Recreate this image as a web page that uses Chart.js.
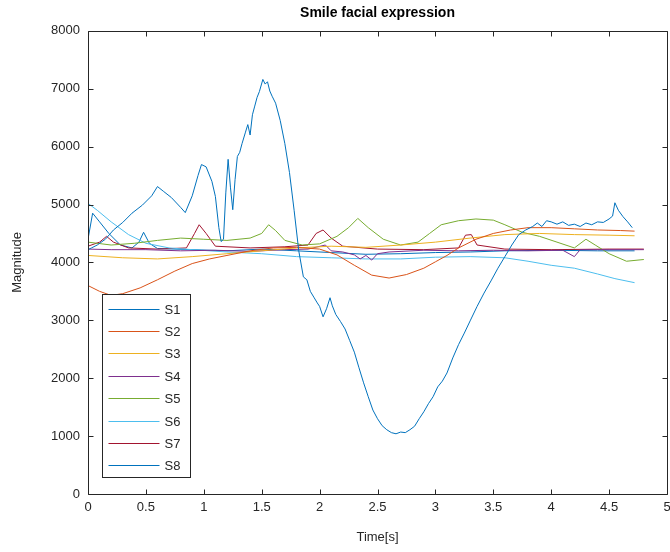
<!DOCTYPE html>
<html>
<head>
<meta charset="utf-8">
<title>Smile facial expression</title>
<script src="https://cdn.jsdelivr.net/npm/chart.js@4/dist/chart.umd.min.js"></script>
<style>
  html, body { margin: 0; padding: 0; background: #fff; overflow: hidden; }
  #wrap { width: 700px; height: 552px; }
</style>
</head>
<body>
<div id="wrap"><canvas id="smileChart" width="700" height="552"></canvas></div>
<script>
// sensor magnitudes over time, [time s, magnitude]
const S1 = [
  [0, 4220], [0.03, 4250], [0.08, 4300], [0.15, 4400], [0.22, 4560], [0.3, 4690],
  [0.38, 4850], [0.47, 4990], [0.55, 5150], [0.6, 5310], [0.65, 5230], [0.72, 5120],
  [0.8, 4950], [0.84, 4860], [0.9, 5150], [0.95, 5500], [0.98, 5690], [1.02, 5650],
  [1.07, 5400], [1.1, 5140], [1.13, 4600], [1.15, 4360], [1.17, 4400], [1.19, 5200],
  [1.21, 5780], [1.23, 5300], [1.25, 4910], [1.27, 5430], [1.29, 5830], [1.31, 5900],
  [1.33, 6050], [1.36, 6250], [1.38, 6380], [1.4, 6200], [1.42, 6550], [1.44, 6700],
  [1.46, 6850], [1.48, 6950], [1.51, 7160], [1.53, 7080], [1.55, 7120], [1.57, 6960],
  [1.59, 6870], [1.62, 6750], [1.66, 6450], [1.7, 6050], [1.74, 5550], [1.78, 4900],
  [1.82, 4200], [1.86, 3750], [1.89, 3700], [1.92, 3500], [1.95, 3400], [1.98, 3300],
  [2.0, 3240], [2.03, 3060], [2.06, 3200], [2.09, 3390], [2.11, 3250], [2.14, 3100],
  [2.18, 2980], [2.22, 2850], [2.26, 2650], [2.3, 2450], [2.34, 2180], [2.38, 1920],
  [2.42, 1680], [2.46, 1450], [2.5, 1300], [2.54, 1180], [2.58, 1110], [2.62, 1060],
  [2.66, 1040], [2.7, 1070], [2.74, 1060], [2.78, 1110], [2.82, 1170], [2.86, 1300],
  [2.9, 1420], [2.94, 1560], [2.98, 1680], [3.02, 1850], [3.06, 1950], [3.1, 2090],
  [3.15, 2350], [3.2, 2580], [3.25, 2780], [3.3, 2990], [3.36, 3240], [3.42, 3470],
  [3.48, 3680], [3.54, 3900], [3.6, 4100], [3.66, 4300], [3.72, 4480], [3.78, 4560],
  [3.84, 4620], [3.88, 4680], [3.92, 4620], [3.96, 4720], [4.0, 4700], [4.05, 4660],
  [4.1, 4700], [4.15, 4640], [4.2, 4660], [4.25, 4620], [4.3, 4680], [4.35, 4650],
  [4.4, 4700], [4.45, 4690], [4.5, 4750], [4.53, 4800], [4.55, 5030], [4.58, 4900],
  [4.62, 4790], [4.66, 4700], [4.7, 4600]
];
const S2 = [
  [0, 3600], [0.1, 3500], [0.2, 3430], [0.3, 3460], [0.45, 3560], [0.6, 3700],
  [0.75, 3850], [0.9, 3980], [1.05, 4060], [1.2, 4120], [1.4, 4200], [1.6, 4250],
  [1.8, 4260], [2.0, 4230], [2.15, 4130], [2.3, 3950], [2.45, 3780], [2.6, 3730],
  [2.75, 3790], [2.9, 3900], [3.0, 4010], [3.1, 4120], [3.2, 4250], [3.35, 4400],
  [3.5, 4500], [3.65, 4560], [3.8, 4600], [4.0, 4600], [4.2, 4580], [4.4, 4560],
  [4.6, 4550], [4.72, 4540]
];
const S3 = [
  [0, 4120], [0.3, 4080], [0.6, 4060], [0.9, 4100], [1.2, 4150], [1.5, 4200],
  [1.8, 4250], [2.1, 4280], [2.4, 4260], [2.7, 4300], [3.0, 4350], [3.3, 4420],
  [3.6, 4480], [3.9, 4500], [4.2, 4480], [4.5, 4470], [4.72, 4460]
];
const S4 = [
  [0, 4230], [0.2, 4220], [0.5, 4220], [0.8, 4200], [1.1, 4210], [1.4, 4190],
  [1.7, 4220], [1.9, 4230], [2.05, 4300], [2.1, 4200], [2.2, 4180], [2.3, 4130],
  [2.35, 4060], [2.4, 4120], [2.45, 4040], [2.5, 4150], [2.6, 4180], [2.9, 4210],
  [3.2, 4200], [3.5, 4210], [3.8, 4200], [4.1, 4210], [4.2, 4100], [4.25, 4220],
  [4.5, 4220], [4.8, 4220]
];
const S5 = [
  [0, 4350], [0.2, 4300], [0.4, 4330], [0.6, 4380], [0.8, 4420], [1.0, 4400],
  [1.2, 4380], [1.4, 4420], [1.5, 4500], [1.56, 4650], [1.62, 4550], [1.7, 4380],
  [1.85, 4300], [2.0, 4320], [2.15, 4450], [2.25, 4600], [2.33, 4760], [2.42, 4600],
  [2.55, 4400], [2.7, 4300], [2.85, 4350], [2.95, 4500], [3.05, 4650], [3.2, 4720],
  [3.35, 4750], [3.5, 4730], [3.6, 4650], [3.75, 4520], [3.9, 4450], [4.05, 4350],
  [4.2, 4250], [4.3, 4400], [4.38, 4300], [4.5, 4150], [4.65, 4020], [4.8, 4050]
];
const S6 = [
  [0, 5020], [0.08, 4900], [0.2, 4700], [0.35, 4480], [0.5, 4330], [0.7, 4250],
  [0.9, 4220], [1.2, 4180], [1.5, 4150], [1.8, 4100], [2.1, 4080], [2.4, 4060],
  [2.7, 4060], [3.0, 4090], [3.3, 4100], [3.6, 4080], [3.8, 4020], [4.0, 3950],
  [4.2, 3900], [4.4, 3800], [4.55, 3720], [4.72, 3650]
];
const S7 = [
  [0, 4280], [0.1, 4350], [0.16, 4450], [0.22, 4350], [0.35, 4250], [0.6, 4230],
  [0.85, 4250], [0.92, 4500], [0.96, 4650], [1.02, 4500], [1.1, 4280], [1.4, 4250],
  [1.7, 4270], [1.9, 4300], [1.97, 4500], [2.03, 4560], [2.1, 4420], [2.2, 4280],
  [2.5, 4230], [2.9, 4220], [3.2, 4250], [3.26, 4470], [3.31, 4480], [3.36, 4300],
  [3.6, 4230], [4.0, 4220], [4.5, 4230], [4.8, 4230]
];
const S8 = [
  [0, 4400], [0.04, 4850], [0.1, 4700], [0.18, 4500], [0.28, 4300], [0.38, 4250],
  [0.44, 4350], [0.48, 4520], [0.53, 4330], [0.6, 4240], [0.9, 4220], [1.2, 4200],
  [1.5, 4230], [1.8, 4200], [2.1, 4170], [2.4, 4140], [2.7, 4150], [3.0, 4170],
  [3.3, 4180], [3.6, 4200], [4.0, 4210], [4.4, 4200], [4.72, 4200]
];

const seriesNames = ['S1', 'S2', 'S3', 'S4', 'S5', 'S6', 'S7', 'S8'];
const seriesData = [S1, S2, S3, S4, S5, S6, S7, S8];
const seriesColors = ['#0072BD', '#D95319', '#EDB120', '#7E2F8E', '#77AC30', '#4DBEEE', '#A2142F', '#0072BD'];

const FONT = 'Helvetica, "Liberation Sans", Arial, sans-serif';
const AXIS_COLOR = '#262626';

// box around the plot with inward ticks on every side, legend in the lower left
const matlabAxes = {
  id: 'matlabAxes',
  afterDatasetsDraw(chart) {
    const { ctx, chartArea: a, scales: { x, y } } = chart;
    const L = Math.round(a.left) + 0.5, R = Math.round(a.right) + 0.5;
    const T = Math.round(a.top) + 0.5, B = Math.round(a.bottom) + 0.5;
    const tick = 5;
    ctx.save();
    ctx.strokeStyle = AXIS_COLOR;
    ctx.lineWidth = 1;
    ctx.beginPath();
    ctx.rect(L, T, R - L, B - T);
    x.ticks.forEach((t) => {
      const px = Math.round(x.getPixelForValue(t.value)) + 0.5;
      ctx.moveTo(px, B); ctx.lineTo(px, B - tick);
      ctx.moveTo(px, T); ctx.lineTo(px, T + tick);
    });
    y.ticks.forEach((t) => {
      const py = Math.round(y.getPixelForValue(t.value)) + 0.5;
      ctx.moveTo(L, py); ctx.lineTo(L + tick, py);
      ctx.moveTo(R, py); ctx.lineTo(R - tick, py);
    });
    ctx.stroke();

    // legend
    const lx = 102.5, ly = 294.5, lw = 88, lh = 183, step = 22.4;
    ctx.fillStyle = '#fff';
    ctx.fillRect(lx, ly, lw, lh);
    ctx.strokeStyle = AXIS_COLOR;
    ctx.lineWidth = 1;
    ctx.strokeRect(lx, ly, lw, lh);
    ctx.font = '13px ' + FONT;
    ctx.textBaseline = 'middle';
    ctx.textAlign = 'left';
    seriesNames.forEach((name, i) => {
      const cy = Math.round(ly + 14 + i * step) + 0.5;
      ctx.strokeStyle = seriesColors[i];
      ctx.lineWidth = 1;
      ctx.beginPath();
      ctx.moveTo(lx + 6, cy);
      ctx.lineTo(lx + 57, cy);
      ctx.stroke();
      ctx.fillStyle = AXIS_COLOR;
      ctx.fillText(name, lx + 62, cy + 1);
    });
    ctx.restore();
  }
};

new Chart(document.getElementById('smileChart'), {
  type: 'line',
  data: {
    datasets: seriesNames.map((name, i) => ({
      label: name,
      data: seriesData[i].map(([t, v]) => ({ x: t, y: v })),
      borderColor: seriesColors[i],
      borderWidth: 1,
      pointRadius: 0,
      tension: 0,
      fill: false,
    })),
  },
  options: {
    responsive: false,
    animation: false,
    devicePixelRatio: 1,
    layout: { padding: { left: 0, right: 33, top: 0, bottom: 0 } },
    plugins: {
      legend: { display: false },
      tooltip: { enabled: false },
      title: {
        display: true,
        fullSize: false,
        text: 'Smile facial expression',
        color: '#000',
        font: { family: FONT, size: 14, weight: 'bold' },
        padding: { top: 5, bottom: 9 },
      },
    },
    scales: {
      x: {
        type: 'linear',
        min: 0,
        max: 5,
        grid: { display: false, drawTicks: false },
        border: { display: false },
        ticks: {
          stepSize: 0.5,
          color: AXIS_COLOR,
          padding: 6,
          maxRotation: 0,
          autoSkip: false,
          font: { family: FONT, size: 13 },
          callback: (v) => String(v),
        },
        title: {
          display: true,
          text: 'Time[s]',
          color: AXIS_COLOR,
          font: { family: FONT, size: 13 },
          padding: { top: 0, bottom: 7 },
        },
        afterFit(scale) { scale.height = 58; },
      },
      y: {
        min: 0,
        max: 8000,
        grid: { display: false, drawTicks: false },
        border: { display: false },
        ticks: {
          stepSize: 1000,
          color: AXIS_COLOR,
          padding: 8,
          font: { family: FONT, size: 13 },
          callback: (v) => String(v),
        },
        title: {
          display: true,
          text: 'Magnitude',
          color: AXIS_COLOR,
          font: { family: FONT, size: 13 },
          padding: { top: 10, bottom: 0 },
        },
        afterFit(scale) { scale.width = 88; },
      },
    },
  },
  plugins: [matlabAxes],
});
</script>
</body>
</html>
